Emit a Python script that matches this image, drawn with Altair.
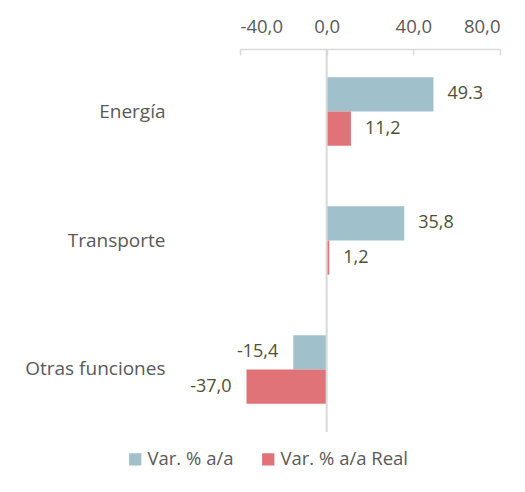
import altair as alt
import pandas as pd

categories = ["Energía", "Transporte", "Otras funciones"]
series_names = ["Var.  % a/a", "Var. % a/a Real"]
var_nominal = [49.3, 35.8, -15.4]
var_real = [11.2, 1.2, -37.0]
label_nominal = ["49.3", "35,8", "-15,4"]
label_real = ["11,2", "1,2", "-37,0"]
x_ticks = [-40, 0, 40, 80]
colors = ["#a0c0cc", "#e07378"]

rows = []
for c, v, l in zip(categories, var_nominal, label_nominal):
    rows.append({"cat": c, "serie": series_names[0], "val": v, "lab": l})
for c, v, l in zip(categories, var_real, label_real):
    rows.append({"cat": c, "serie": series_names[1], "val": v, "lab": l})
df = pd.DataFrame(rows)

FONT = "Open Sans"

y_enc = alt.Y("cat:N", sort=categories,
              scale=alt.Scale(paddingInner=0.47, paddingOuter=0.22),
              axis=alt.Axis(title=None, ticks=False, domain=False, labelPadding=75,
                            labelFontSize=19, labelColor="#595959", labelFont=FONT))
yoff = alt.YOffset("serie:N", sort=series_names, scale=alt.Scale(paddingInner=0, paddingOuter=0))
x_scale = alt.Scale(domain=[-40, 80], nice=False, zero=False)

bars = alt.Chart(df).mark_bar().encode(
    x=alt.X("val:Q", scale=x_scale,
            axis=alt.Axis(orient="top", title=None, values=x_ticks,
                          labelExpr="replace(replace(format(datum.value, '.1f'), '.', ','), '\u2212', '-')",
                          ticks=False, domain=True, domainColor="#d9d9d9", domainWidth=1.5,
                          grid=True, gridColor="#d9d9d9", gridWidth=1.5, gridDash=[6, 2000],
                          labelFontSize=18.5, labelColor="#595959", labelFont=FONT,
                          labelPadding=13)),
    y=y_enc,
    yOffset=yoff,
    color=alt.Color("serie:N", sort=series_names,
                    scale=alt.Scale(domain=series_names, range=colors),
                    legend=alt.Legend(title=None, orient="none", legendX=-114, legendY=401,
                                      direction="horizontal", symbolType="square",
                                      symbolSize=150, symbolStrokeWidth=0,
                                      labelFontSize=18.5, labelColor="#595959", labelFont=FONT,
                                      columnPadding=20, labelOffset=3)),
)

zero = alt.Chart(pd.DataFrame({"z": [0]})).mark_rule(color="#d9d9d9", strokeWidth=2).encode(
    x=alt.X("z:Q", scale=x_scale)
)

pos_labels = alt.Chart(df).transform_filter("datum.val >= 0").mark_text(
    align="left", baseline="middle", dx=14, fontSize=18, color="#4f4f35", font=FONT
).encode(x=alt.X("val:Q", scale=x_scale), y=alt.Y("cat:N", sort=categories), yOffset=yoff, text="lab:N")

neg_labels = alt.Chart(df).transform_filter("datum.val < 0").mark_text(
    align="right", baseline="middle", dx=-15, fontSize=18, color="#4f4f35", font=FONT
).encode(x=alt.X("val:Q", scale=x_scale), y=alt.Y("cat:N", sort=categories), yOffset=yoff, text="lab:N")

chart = alt.layer(bars, zero, pos_labels, neg_labels).properties(
    width=260, height=383,
    autosize=alt.AutoSizeParams(type="none"),
    padding={"left": 232, "top": 41, "right": 9, "bottom": 44},
).configure_view(stroke=None)

chart.save("out.html", embed_options={"renderer": "svg", "actions": False})
